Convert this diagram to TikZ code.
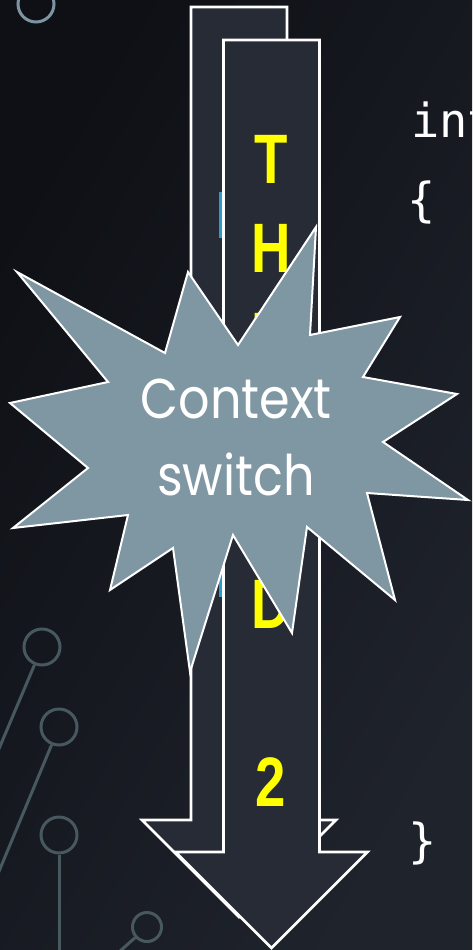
\documentclass[tikz,border=0pt]{standalone}
\usepackage{fontspec}
\setmainfont{Liberation Sans}
\newfontfamily\burstfont{Poppins}
\newfontfamily\codefont{DejaVu Sans Mono}
\newfontfamily\arrowfont{Liberation Sans}
\definecolor{bgA}{HTML}{0E1015}
\definecolor{bgB}{HTML}{1F232C}
\definecolor{arrowfill}{HTML}{262B35}
\definecolor{burstfill}{HTML}{7F96A3}
\definecolor{circA}{HTML}{7D95A2}
\definecolor{circB}{HTML}{48585F}
\definecolor{cursor}{HTML}{2B9CC9}
\definecolor{lettercol}{HTML}{FFFF00}
\tikzset{
  bigarrow/.style={draw=white, fill=arrowfill, line width=2.6pt, line join=miter},
  burst/.style={draw=white, fill=burstfill, line width=2pt, line join=miter},
  ring/.style={circle, draw=#1, line width=3pt, minimum size=36pt, inner sep=0pt},
  wire/.style={draw=#1, line width=3pt},
  letter/.style={text=lettercol, anchor=base, inner sep=0pt, font=\arrowfont\bfseries\fontsize{70}{70}\selectfont},
  codetext/.style={text=white, inner sep=0pt, font=\codefont\fontsize{47}{47}\selectfont},
  bursttext/.style={text=white, anchor=base, inner sep=0pt, font=\burstfont\fontsize{56}{56}\selectfont}
}
\begin{document}
\begin{tikzpicture}[x=1pt,y=-1pt]
\useasboundingbox (0,0) rectangle (472,950);
\begin{scope}
\clip (0,0) rectangle (472,950);
\shade[left color=bgA, right color=bgB, shading angle=60] (0,0) rectangle (472,950);
% circuit decorations
\node[ring=circA] (r0) at (36,4) {};
\node[ring=circB] (r1) at (42,647) {};
\coordinate (e1) at (-10,770);
\draw[wire=circB] (r1) -- (e1);
\node[ring=circB] (r2) at (59,727) {};
\coordinate (e2) at (-10,893);
\draw[wire=circB] (r2) -- (e2);
\node[ring=circB] (r3) at (59,835) {};
\coordinate (e3) at (59,960);
\draw[wire=circB] (r3) -- (e3);
\node[ring=circB, minimum size=29pt] (r4) at (147,927) {};
\coordinate (e4) at (110,960);
\draw[wire=circB] (r4) -- (e4);
% code text
\node[codetext, anchor=base west] (kw) at (411,137) {int};
\node[codetext, anchor=center] (ob) at (422,202) {\{};
\node[codetext, anchor=center] (cb) at (423,843) {\}};
% back arrow
\draw[bigarrow] (191,7) -- (287,7) -- (287,820) -- (336,820) -- (239,917) -- (142,820) -- (191,820) -- cycle;
% cursor marks
\fill[cursor] (219,192) rectangle (222.5,238);
\fill[cursor] (219,573) rectangle (222.5,597);
% front arrow
\draw[bigarrow] (223.5,40) -- (319.5,40) -- (319.5,852) -- (367.5,852) -- (271.5,948) -- (175.5,852) -- (223.5,852) -- cycle;
% letters
\foreach \ch/\yy/\nm in {T/183/lT, H/272/lH, R/361/lR, E/450/lE, A/539/lA, D/628/lD, 2/806/lTwo}{
  \node[letter] (\nm) at (271,\yy) {\scalebox{0.78}[1]{\ch}};
}
% starburst
\draw[burst] (17,272) -- (165,353) -- (188,272) -- (238,345) -- (316,227) -- (310,335) -- (400,317) -- (363,377) -- (457,394) -- (383,442) -- (468,500) -- (367,493) -- (395,600) -- (307,527) -- (292,633) -- (233,535) -- (190,672) -- (173,548) -- (110,590) -- (128,515) -- (13,528) -- (88,468) -- (10,403) -- (108,382) -- cycle;
\node[bursttext] (ctx) at (236,418) {\scalebox{0.88}[1]{Context}};
\node[bursttext] (sw) at (236,495) {\scalebox{0.88}[1]{switch}};
\end{scope}
\end{tikzpicture}
\end{document}
